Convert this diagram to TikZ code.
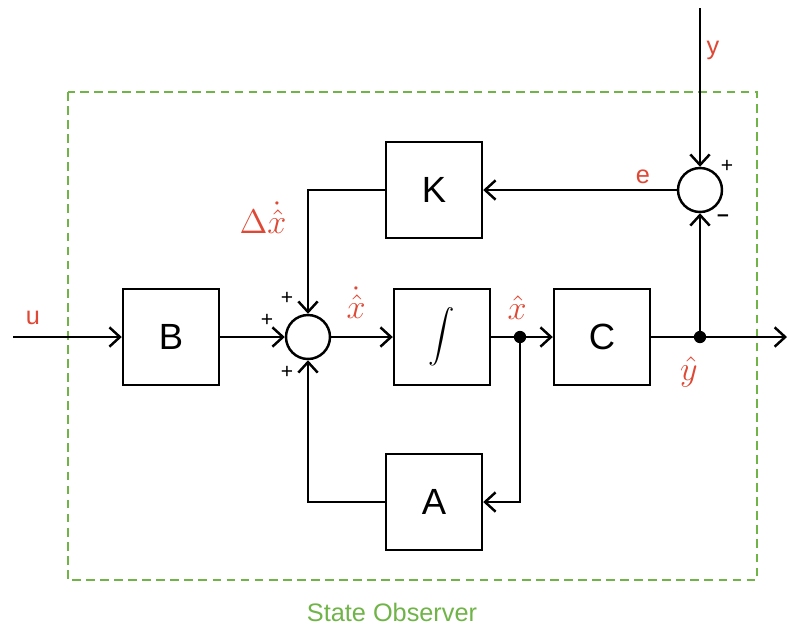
\documentclass[tikz,border=0pt]{standalone}
\usepackage{fontspec}
\setmainfont{Liberation Sans}
\usetikzlibrary{arrows.meta}
\definecolor{lred}{RGB}{222,72,52}
\definecolor{lgreen}{RGB}{112,180,72}
\tikzset{
  blk/.style={draw, line width=1.4pt, minimum width=1.92cm, minimum height=1.92cm, inner sep=0pt, font=\huge},
  sumc/.style={draw, circle, line width=1.4pt, minimum size=0.88cm, inner sep=0pt},
  wire/.style={line width=1.4pt},
  arr/.style={wire, -{Straight Barb[length=6pt,width=11pt,line width=1.4pt]}},
  lbl/.style={text=lred, font=\Large},
  sgn/.style={font=\large},
  dotn/.style={circle, fill, inner sep=0pt, minimum size=7pt}
}
\begin{document}
\begin{tikzpicture}[x=0.02cm,y=-0.02cm]
\useasboundingbox (0,0) rectangle (787,633);
% observer frame
\draw[lgreen, line width=1.4pt, dash pattern=on 5pt off 3pt] (68,92) rectangle (757,580);
\node[text=lgreen, font=\Large] (title) at (392,612) {State Observer};
% blocks
\node[blk] (B) at (171,337) {B};
\node[blk] (I) at (442,337) {\scalebox{1.5}{$\displaystyle\int$}};
\node[blk] (C) at (602,337) {C};
\node[blk] (K) at (434,190) {K};
\node[blk] (A) at (434,502) {A};
\node[sumc] (S1) at (308,337) {};
\node[sumc] (S2) at (700,190) {};
% coordinates
\coordinate (uin) at (13,337);
\coordinate (yin) at (700,8);
\coordinate (out) at (787,337);
\node[dotn] (d1) at (520,337) {};
\node[dotn] (d2) at (700,337) {};
% connections
\draw[arr] (uin) -- (B.west);
\draw[arr] (B.east) -- (S1.west);
\draw[arr] (S1.east) -- (I.west);
\draw[arr] (I.east) -- (C.west);
\draw[arr] (C.east) -- (out);
\draw[arr] (d1.center) |- (A.east);
\draw[arr] (A.west) -| (S1.south);
\draw[arr] (K.west) -| (S1.north);
\draw[arr] (yin) -- (S2.north);
\draw[arr] (d2.center) -- (S2.south);
\draw[arr] (S2.west) -- (K.east);
% labels
\node[lbl] (lu) at (33,318) {u};
\node[lbl] (ly) at (713,50) {y};
\node[lbl] (le) at (643,177) {e};
\node[lbl] (ldx) at (263,218) {\scalebox{1.35}{$\Delta\dot{\hat{x}}$}};
\node[lbl] (lxd) at (356,303) {\scalebox{1.35}{$\dot{\hat{x}}$}};
\node[lbl] (lxh) at (517,308) {\scalebox{1.35}{$\hat{x}$}};
\node[lbl] (lyh) at (689,372) {\scalebox{1.35}{$\hat{y}$}};
% signs
\node[sgn] (p1) at (287,298) {+};
\node[sgn] (p2) at (267,320) {+};
\node[sgn] (p3) at (287,372) {+};
\node[sgn] (p4) at (727,166) {+};
\node[sgn] (m1) at (723,218) {\textbf{--}};
\end{tikzpicture}
\end{document}
